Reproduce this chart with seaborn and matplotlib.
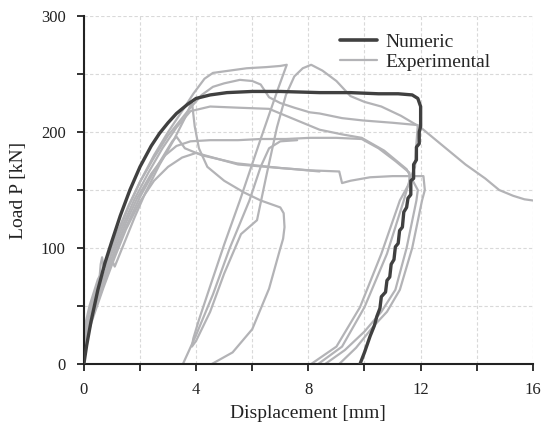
import numpy as np
import pandas as pd
import matplotlib
matplotlib.use("Agg")
import matplotlib.pyplot as plt
from matplotlib.lines import Line2D
from matplotlib.ticker import MultipleLocator
import seaborn as sns

# ---------------- data (displacement [mm], load [kN]) ----------------
numeric_x = [0, 0.1, 0.25, 0.5, 0.75, 1.0, 1.3, 1.64, 2.0, 2.4, 2.7, 3.0, 3.3, 3.7, 4.0, 4.5,
             5.1, 6.0, 7.0, 8.4, 9.5, 10.5, 11.2, 11.7, 11.9, 12.0, 12.0, 11.95, 11.95, 11.85,
             11.85, 11.75, 11.75, 11.65, 11.65, 11.55, 11.5, 11.4, 11.35, 11.25, 11.2, 11.1,
             11.05, 10.95, 10.9, 10.8, 10.75, 10.6, 10.55, 10.44, 10.35, 10.2, 10.0, 9.84]
numeric_y = [0, 16, 36, 64, 87, 106, 128, 150, 170, 188, 199, 208, 216, 224, 229, 232,
             234, 235, 235, 234, 234, 233, 233, 232, 229, 222, 205, 200, 190, 187,
             176, 172, 160, 158, 146, 143, 135, 131, 118, 115, 104, 101, 90, 86,
             75, 72, 62, 58, 48, 41, 33, 24, 10, 0]

# Experimental curve A: highest peak, unload/reload loop, post-peak branch
expA_x = [0, 0.05, 0.2, 0.5, 0.8, 1.2, 1.6, 2.0, 2.5, 3.0, 3.5, 3.9, 4.3, 4.6, 5.2, 5.8,
          6.5, 7.0, 7.23, 6.9, 6.3, 5.56, 5.0, 4.5, 4.1, 3.9, 3.85, 4.0, 4.5, 5.0, 5.6,
          6.17, 6.5, 6.88, 7.2, 7.5, 7.8, 8.1, 8.5, 9.0, 9.5, 10.0, 10.6, 11.3, 12.0,
          12.8, 13.6, 14.3, 14.8, 15.3, 15.7, 16.0]
expA_y = [0, 30, 46, 70, 88, 112, 136, 157, 180, 200, 218, 233, 246, 251, 253, 255,
          256, 257, 258, 236, 194, 141, 103, 67, 38, 22, 15, 20, 45, 78, 112,
          124, 162, 204, 232, 248, 255, 258, 253, 244, 231, 226, 222, 214, 204,
          188, 172, 160, 150, 145, 142, 141]

# Experimental curve B: peak ~245 then descending plateau and unloading
expB_x = [0, 0.05, 0.25, 0.55, 0.6, 0.65, 0.7, 0.9, 1.2, 1.6, 2.0, 2.5, 3.0, 3.5, 3.8,
          4.2, 4.6, 5.0, 5.56, 6.0, 6.3, 6.6, 7.0, 7.5, 8.05, 8.4, 9.2, 9.94, 11.0,
          11.9, 11.85, 11.8, 11.6, 11.4, 10.8, 10.0, 9.2, 8.35]
expB_y = [0, 26, 44, 72, 86, 92, 84, 96, 114, 137, 157, 178, 197, 212, 221,
          232, 239, 242, 245, 244, 241, 230, 225, 221, 217, 216, 212, 210, 208,
          206, 190, 170, 158, 141, 95, 49, 15, 0]

# Experimental curve C: peak ~228, sudden drop, "flag" and unloading
expC_x = [0, 0.05, 0.2, 0.5, 0.9, 1.03, 1.1, 1.4, 1.8, 2.2, 2.7, 3.2, 3.6, 3.85,
          3.95, 4.1, 4.4, 5.0, 5.7, 6.3, 7.0, 7.12, 7.15, 7.1, 6.98, 6.6, 6.0, 5.3, 4.56]
expC_y = [0, 34, 50, 73, 90, 88, 84, 102, 126, 148, 172, 193, 212, 226,
          205, 186, 170, 158, 148, 141, 135, 130, 118, 108, 98, 65, 30, 10, 0]

# Experimental curve D: plateau ~220 descending to ~168, then unloading
expD_x = [0, 0.05, 0.3, 0.6, 1.0, 1.4, 1.8, 2.3, 2.8, 3.3, 3.8, 4.5, 5.5, 6.6,
          7.5, 8.4, 9.2, 9.9, 10.7, 11.5, 11.9, 11.85, 11.5, 11.1, 10.6, 10.0, 9.3, 8.6]
expD_y = [0, 24, 46, 68, 96, 120, 142, 165, 186, 204, 218, 222, 221, 220,
          211, 202, 198, 195, 184, 168, 150, 141, 100, 64, 45, 28, 12, 0]

# Experimental curve E: plateau ~193, then unloading
expE_x = [0, 0.05, 0.3, 0.7, 1.1, 1.5, 1.9, 2.4, 2.9, 3.3, 3.8, 4.5, 5.5, 6.3,
          7.2, 8.05, 9.0, 9.9, 10.5, 11.1, 11.6, 11.6, 11.26, 10.6, 9.84, 9.0, 8.1]
expE_y = [0, 22, 42, 72, 98, 122, 143, 164, 180, 188, 192, 193, 193, 194,
          194, 195, 195, 194, 186, 175, 165, 156, 141, 95, 49, 15, 0]

# Experimental curve F: bump ~196, plateau ~170 with notch, unloading
expF_x = [0, 0.05, 0.3, 0.7, 1.1, 1.5, 2.0, 2.5, 2.9, 3.15, 3.3, 3.6, 4.2, 5.45,
          7.0, 8.05, 9.1, 9.2, 9.5, 10.2, 11.0, 12.1, 12.15, 12.05, 11.7, 11.26,
          10.8, 10.3, 9.7, 9.1]
expF_y = [0, 20, 40, 68, 94, 118, 144, 166, 182, 192, 196, 186, 180, 173,
          169, 167, 166, 156, 158, 161, 162, 162, 150, 141, 100, 64,
          45, 32, 14, 0]

# Experimental curve G: lower branch ~182 slowly descending
expG_x = [0, 0.05, 0.3, 0.7, 1.1, 1.5, 2.0, 2.5, 3.0, 3.5, 4.0, 4.6, 5.5, 6.5,
          7.5, 8.4]
expG_y = [0, 18, 38, 66, 92, 116, 140, 158, 170, 178, 182, 178, 172, 170,
          168, 166]

# Experimental curve H: reload line from 3.53 mm joining plateau
expH_x = [3.53, 4.0, 4.6, 5.2, 5.9, 6.3, 6.6, 7.0, 7.6]
expH_y = [0, 25, 60, 100, 141, 170, 186, 192, 193]

exp_curves = {"A": (expA_x, expA_y), "B": (expB_x, expB_y), "C": (expC_x, expC_y),
              "D": (expD_x, expD_y), "E": (expE_x, expE_y), "F": (expF_x, expF_y),
              "G": (expG_x, expG_y), "H": (expH_x, expH_y)}

rows = []
for name, (xs, ys) in exp_curves.items():
    for i, (a, b) in enumerate(zip(xs, ys)):
        rows.append({"curve": name, "order": i, "disp": a, "load": b})
exp_df = pd.DataFrame(rows)
num_df = pd.DataFrame({"disp": numeric_x, "load": numeric_y, "curve": "N"})

# ---------------- plot ----------------
sns.set_theme(style="white")
plt.rcParams["font.family"] = ["Liberation Serif", "DejaVu Serif"]

fig = plt.figure(figsize=(5.41, 4.23), dpi=100)
ax = fig.add_axes([0.155, 0.1395, 0.830, 0.8225])

grey = "#b3b3b6"
dark = "#404040"

sns.lineplot(data=exp_df, x="disp", y="load", units="curve", estimator=None,
             sort=False, color=grey, linewidth=1.6, ax=ax, zorder=2)
sns.lineplot(data=num_df, x="disp", y="load", estimator=None, sort=False,
             color=dark, linewidth=2.4, ax=ax, zorder=3)

ax.set_xlim(0, 16)
ax.set_ylim(0, 300)
ax.xaxis.set_major_locator(MultipleLocator(4))
ax.xaxis.set_minor_locator(MultipleLocator(2))
ax.yaxis.set_major_locator(MultipleLocator(100))
ax.yaxis.set_minor_locator(MultipleLocator(50))
ax.grid(which="both", color="#d9d9d9", linestyle=(0, (3, 2)), linewidth=0.8)
ax.set_axisbelow(True)

for side in ["top", "right"]:
    ax.spines[side].set_visible(False)
for side in ["left", "bottom"]:
    ax.spines[side].set_color("#222222")
    ax.spines[side].set_linewidth(1.5)

ax.tick_params(which="both", direction="out", length=5, width=1.3, color="#222222",
               labelsize=12, labelcolor="#222222")
ax.tick_params(axis="x", which="both", bottom=True, pad=8)
ax.tick_params(axis="y", which="both", left=True, pad=8)

ax.set_xlabel("Displacement [mm]", fontsize=14, color="#222222", labelpad=5)
ax.set_ylabel("Load P [kN]", fontsize=14, color="#222222", labelpad=10)

handles = [Line2D([], [], color=dark, linewidth=2.6),
           Line2D([], [], color=grey, linewidth=1.6)]
ax.legend(handles, ["Numeric", "Experimental"], loc="upper left",
          bbox_to_anchor=(0.545, 0.985), frameon=False, fontsize=14,
          handlelength=1.9, handletextpad=0.4, labelspacing=0.15, borderaxespad=0.2)

fig.savefig("out.png", dpi=100)
